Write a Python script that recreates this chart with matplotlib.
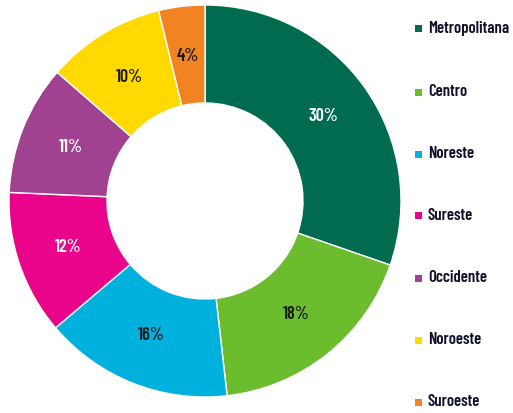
import matplotlib.pyplot as plt

regions = ['Metropolitana', 'Centro', 'Noreste', 'Sureste', 'Occidente', 'Noroeste', 'Suroeste']
shares = [30.3, 17.9, 15.6, 11.9, 10.7, 9.8, 3.8]
colors = ['#006b4f', '#6cbd2d', '#00b1de', '#ea038b', '#a0428f', '#ffd900', '#f28321']
label_colors = ['white', '#1a1a1a', '#1a1a1a', 'white', 'white', '#1a1a1a', '#1a1a1a']

font = ['Barlow Condensed', 'DejaVu Sans']

fig = plt.figure(figsize=(5.13, 4.13), dpi=100)
ax = fig.add_axes([9 / 513, 16 / 413, 392 / 513, 392 / 413])

wedges, texts = ax.pie(shares, colors=colors, startangle=90, counterclock=False,
                       wedgeprops=dict(width=0.5, edgecolor='white', linewidth=1),
                       labels=[f'{s:.0f}%' for s in shares], labeldistance=0.74)
for t, c in zip(texts, label_colors):
    t.set_color(c)
    t.set_fontsize(13)
    t.set_fontweight('semibold')
    t.set_family(font)
    t.set_ha('center')
    t.set_va('center')
ax.set_aspect('equal')
ax.set_xlim(-1, 1)
ax.set_ylim(-1, 1)

# legend on the right
ys = [28, 92, 154, 215, 278, 340, 402]
for name, col, y in zip(regions, colors, ys):
    fig.patches.append(plt.Rectangle((415 / 513, 1 - (y + 3.5) / 413), 7 / 513, 7 / 413,
                                     transform=fig.transFigure, facecolor=col, edgecolor='none'))
    fig.text(428 / 513, 1 - y / 413, name, fontsize=12, fontweight='semibold', family=font,
             color='#10102a', va='center', ha='left')

plt.savefig('out.png')
plt.close()
